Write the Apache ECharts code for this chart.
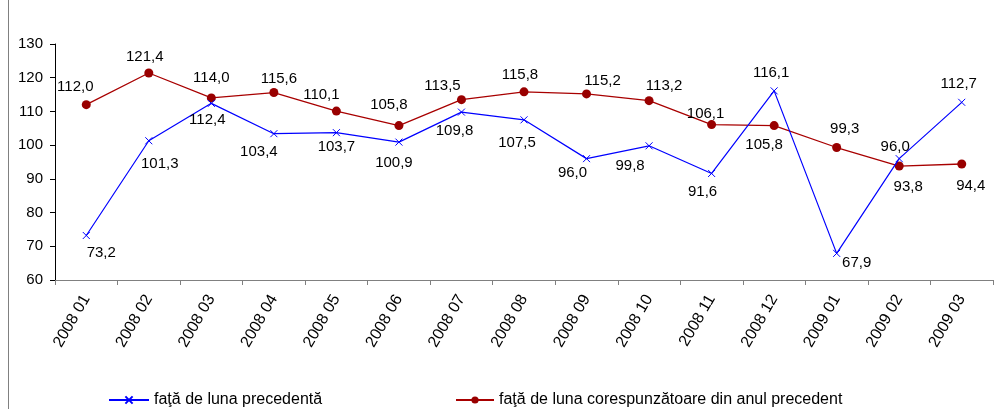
<!DOCTYPE html>
<html>
<head>
<meta charset="utf-8">
<script src="https://cdn.jsdelivr.net/npm/echarts@6/dist/echarts.min.js"></script>
<style>
html,body{margin:0;padding:0;background:#fff;}
#chart{width:1002px;height:409px;}
</style>
</head>
<body>
<div id="chart"></div>
<script>
// ---- data ----
const categories = ['2008 01','2008 02','2008 03','2008 04','2008 05','2008 06','2008 07','2008 08','2008 09','2008 10','2008 11','2008 12','2009 01','2009 02','2009 03'];
const seriesNames = ['faţă de luna precedentă', 'faţă de luna corespunzătoare din anul precedent'];
const prevMonth = [73.2, 101.3, 112.4, 103.4, 103.7, 100.9, 109.8, 107.5, 96.0, 99.8, 91.6, 116.1, 67.9, 96.0, 112.7];
const prevYear = [112.0, 121.4, 114.0, 115.6, 110.1, 105.8, 113.5, 115.8, 115.2, 113.2, 106.1, 105.8, 99.3, 93.8, 94.4];
const yMin = 60, yMax = 130, yStep = 10;

// ---- label placement (style only) ----
const blueOffsets = [[15,17],[11,23],[-4,17],[-15,18],[0,14],[-5,21],[-7,19],[-7,23],[-14,14],[-19,20],[-9,18],[-3,-18],[20,9],[-4,-12],[-3,-18]];
const redOffsets = [[-11,-18],[-4,-16],[0,-20],[5,-14],[-15,-16],[-10,-21],[-19,-14],[-4,-17],[16,-13],[15,-15],[-6,-11],[-10,19],[8,-19],[9,21],[9,22]];

const FONT = 'Liberation Sans, Arial, sans-serif';
const fmt = v => v.toFixed(1).replace('.', ',');

function withLabels(values, offsets) {
  return values.map((v, i) => ({
    value: v,
    label: { show: true, position: 'inside', offset: offsets[i] }
  }));
}

const chart = echarts.init(document.getElementById('chart'), null, { renderer: 'canvas' });
chart.setOption({
  animation: false,
  backgroundColor: '#fff',
  textStyle: { fontFamily: FONT },
  grid: { left: 55, right: 9, top: 44, bottom: 129, containLabel: false, outerBoundsMode: 'none' },
  graphic: [{
    type: 'line', shape: { x1: 8.5, y1: 0, x2: 8.5, y2: 409 },
    style: { stroke: '#808080', lineWidth: 1 }, silent: true
  }],
  legend: [
    { data: [seriesNames[0]], left: 103, top: 387, itemWidth: 40, itemHeight: 9, itemGap: 5,
      textStyle: { fontSize: 16, color: '#000', fontFamily: FONT } },
    { data: [seriesNames[1]], left: 450, top: 387, itemWidth: 38, itemHeight: 9, itemGap: 5,
      textStyle: { fontSize: 16, color: '#000', fontFamily: FONT } }
  ],
  xAxis: {
    type: 'category', data: categories, boundaryGap: true,
    axisLine: { lineStyle: { color: '#808080', width: 1 } },
    axisTick: { show: true, length: 5, lineStyle: { color: '#808080' } },
    axisLabel: { rotate: 60, fontSize: 16, color: '#000', fontFamily: FONT, margin: 16, interval: 0 },
    splitLine: { show: false }
  },
  yAxis: {
    type: 'value', min: yMin, max: yMax, interval: yStep,
    axisLine: { show: true, lineStyle: { color: '#000', width: 1 } },
    axisTick: { show: true, length: 5, lineStyle: { color: '#000' } },
    axisLabel: { fontSize: 15, color: '#000', fontFamily: FONT, margin: 12 },
    splitLine: { show: false }
  },
  series: [
    {
      name: seriesNames[0], type: 'line', data: withLabels(prevMonth, blueOffsets),
      symbol: 'path://M0,0L10,10M10,0L0,10', symbolSize: 7,
      itemStyle: { color: '#0000ff', borderColor: '#0000ff', borderWidth: 1 },
      lineStyle: { color: '#0000ff', width: 1.2 },
      label: { show: true, fontSize: 15, color: '#000', fontFamily: FONT, formatter: p => fmt(p.value) },
      z: 3
    },
    {
      name: seriesNames[1], type: 'line', data: withLabels(prevYear, redOffsets),
      symbol: 'circle', symbolSize: 9,
      itemStyle: { color: '#990000' },
      lineStyle: { color: '#a80000', width: 1.3 },
      label: { show: true, fontSize: 15, color: '#000', fontFamily: FONT, formatter: p => fmt(p.value) },
      z: 2
    }
  ]
});
</script>
</body>
</html>
